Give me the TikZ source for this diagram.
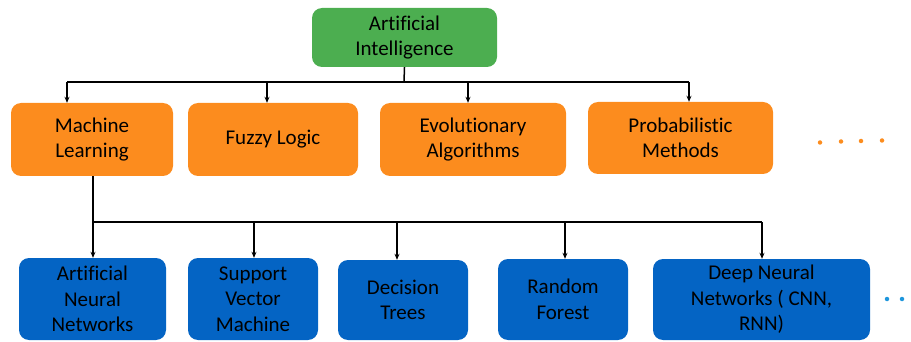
\documentclass[tikz,border=0pt]{standalone}
\usepackage{fontspec}
\setmainfont[Ligatures={NoCommon}]{Carlito}
\usetikzlibrary{arrows.meta}
\definecolor{aigreen}{RGB}{76,174,80}
\definecolor{mlorange}{RGB}{252,140,30}
\definecolor{algblue}{RGB}{4,100,196}
\definecolor{dotblue}{RGB}{30,150,220}
\tikzset{
  box/.style={rounded corners=10pt, align=center, inner sep=0pt,
    font=\fontsize{21}{25.5}\selectfont, text=black},
  topbox/.style={box, fill=aigreen},
  midbox/.style={box, fill=mlorange},
  lowbox/.style={box, fill=algblue},
  wire/.style={line width=1.5pt, black},
  arr/.style={wire, -{Stealth[length=6pt,width=5pt]}},
  dot/.style={circle, inner sep=0pt, minimum size=4.5pt}
}
\begin{document}
\begin{tikzpicture}[x=1pt,y=-1pt]
\useasboundingbox (0,0) rectangle (911,342);
% top
\node[topbox, minimum width=185pt, minimum height=59pt] (ai) at (404.5,37.5) {Artificial\\Intelligence};
% middle row
\node[midbox, minimum width=162pt, minimum height=73pt] (ml) at (92,139.5) {Machine\\Learning};
\node[midbox, minimum width=170pt, minimum height=73pt] (fl) at (273,139.5) {Fuzzy Logic};
\node[midbox, minimum width=186pt, minimum height=73pt] (ea) at (473,139.5) {Evolutionary\\Algorithms};
\node[midbox, minimum width=185pt, minimum height=72pt] (pm) at (680.5,138) {Probabilistic\\Methods};
% bottom row
\node[lowbox, minimum width=147pt, minimum height=82pt] (ann) at (92.5,299) {Artificial\\Neural\\Networks};
\node[lowbox, minimum width=130pt, minimum height=82pt] (svm) at (253,299) {Support\\Vector\\Machine};
\node[lowbox, minimum width=130pt, minimum height=80pt] (dt) at (403,300) {Decision\\Trees};
\node[lowbox, minimum width=130pt, minimum height=81pt] (rf) at (563,299.5) {Random\\Forest};
\node[lowbox, minimum width=217pt, minimum height=81pt] (dnn) at (761.5,299.5) {Deep Neural\\Networks ( CNN,\\RNN)};
% bus coordinates
\coordinate (b1) at (404,82);
\coordinate (b1l) at (67,82);
\coordinate (b1fl) at (267,82);
\coordinate (b1ea) at (468,82);
\coordinate (b1r) at (689,82);
\coordinate (b2) at (93,222);
\coordinate (b2svm) at (254,222);
\coordinate (b2dt) at (397,222);
\coordinate (b2rf) at (565,222);
\coordinate (b2r) at (762,222);
% connectors top
\draw[wire] (ai.south) -- (b1);
\draw[wire] (b1l) -- (b1r);
\draw[arr] (b1l) -- (b1l |- ml.north);
\draw[arr] (b1fl) -- (b1fl |- fl.north);
\draw[arr] (b1ea) -- (b1ea |- ea.north);
\draw[arr] (b1r) -- (b1r |- pm.north);
% connectors bottom
\draw[wire] (b2 |- ml.south) -- (b2);
\draw[wire] (b2) -- (b2r);
\draw[arr] (b2) -- (b2 |- ann.north);
\draw[arr] (b2svm) -- (b2svm |- svm.north);
\draw[arr] (b2dt) -- (b2dt |- dt.north);
\draw[arr] (b2rf) -- (b2rf |- rf.north);
\draw[arr] (b2r) -- (b2r |- dnn.north);
% dots
\foreach \i/\x/\y in {1/820/142.5,2/841/141.5,3/861/141,4/882/140.5}
  \node[dot, fill=mlorange] (od\i) at (\x,\y) {};
\foreach \i/\x in {1/887,2/902}
  \node[dot, fill=dotblue] (bd\i) at (\x,299) {};
\end{tikzpicture}
\end{document}
